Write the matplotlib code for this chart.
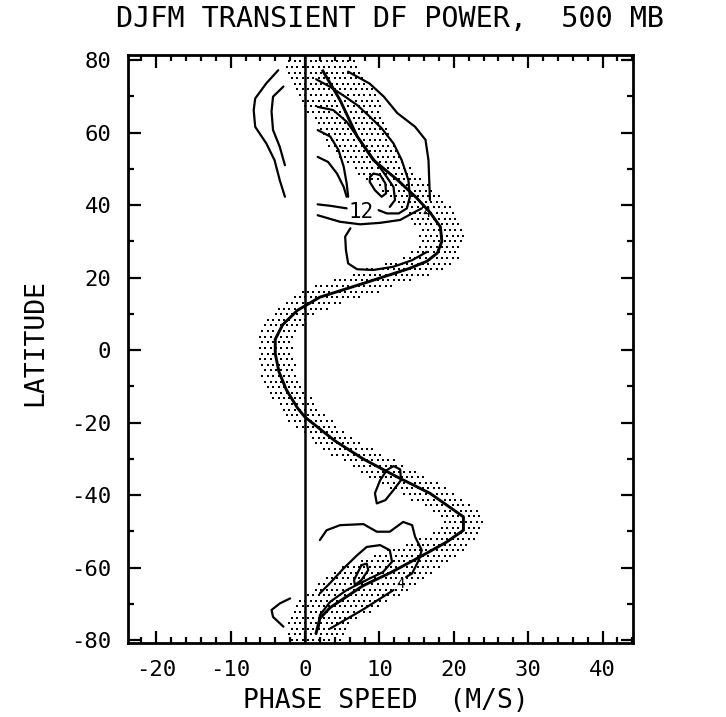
import numpy as np
import matplotlib
matplotlib.use("Agg")
import matplotlib.pyplot as plt
from matplotlib.ticker import MultipleLocator

plt.rcParams["axes.unicode_minus"] = False

# ---------------- data ----------------
# zonal-mean wind profile (m/s) vs latitude
wind_u = [2.4, 4.7, 7.0, 9.2, 12.4, 15.0, 16.8, 18.2, 18.4, 17.8, 16.4, 14.0, 8.0, 2.0,
          -1.0, -3.0, -4.0, -4.0, -3.5, -2.5, -1.0, 0.0, 4.0, 7.8, 12.4, 16.8, 21.3,
          21.3, 19.0, 15.5, 11.4, 7.8, 3.4, 2.0, 1.5]
wind_lat = [77, 69, 59, 52.4, 47, 42, 38, 34, 30, 26.8, 24.5, 22.5, 18.5, 14.6,
            11, 7, 3, -1, -6, -11, -16, -18.5, -25, -30, -35, -39.5, -46,
            -49.7, -53, -57, -61.5, -65, -71, -74, -78]
# half-width (m/s) of the stippled band around the profile, per profile point
stipple_w = [5.0, 5.0, 4.5, 3.5, 3.0, 3.0, 3.0, 3.0, 3.0, 3.0, 3.0, 2.6, 2.6, 2.6,
             2.6, 2.6, 2.4, 2.4, 2.4, 2.4, 2.4, 2.4, 2.4, 2.4, 2.6, 2.6, 2.6,
             2.6, 3.0, 3.5, 4.5, 5.0, 4.5, 4.0, 4.0]

# contour lines of transient power (phase speed, latitude)
c_nw_outer_u = [-3.6, -5.2, -6.7, -6.9, -6.7, -5.2, -4.1, -3.4, -2.7]
c_nw_outer_lat = [77.2, 73.6, 69.4, 66.2, 61.6, 57.0, 52.4, 46.9, 42.3]
c_nw_inner_u = [-2.9, -4.3, -4.5, -4.3, -3.4, -2.7]
c_nw_inner_lat = [72.7, 69.9, 65.8, 60.7, 56.1, 51.0]

c_ne_outer_u = [5.8, 8.7, 10.6, 12.4, 14.8, 16.2, 16.6, 16.8]
c_ne_outer_lat = [76.8, 73.5, 69.9, 65.4, 61.6, 58.0, 52.4, 41.4]

c12_a_u = [1.5, 3.4, 5.4, 7.0, 8.5, 10.3, 11.9, 13.0, 13.9, 14.1, 13.7, 12.6, 11.0, 9.9]
c12_a_lat = [74.7, 72.6, 69.9, 67.6, 64.8, 61.2, 57.0, 52.4, 46.9, 42.3, 39.1, 37.7, 37.7, 38.6]
c12_b_u = [5.6, 3.4, 1.7]
c12_b_lat = [39.1, 39.8, 40.2]

c_b_u = [1.7, 3.8, 5.6, 7.2, 8.8, 10.5, 11.9, 12.1, 11.4]
c_b_lat = [67.1, 66.2, 63.0, 58.4, 53.8, 49.2, 45.0, 41.4, 39.5]
c_c_u = [1.7, 3.4, 4.5, 5.2, 5.6, 5.8]
c_c_lat = [60.7, 58.9, 55.2, 50.6, 46.0, 42.3]
c_d_u = [1.7, 3.1, 4.3, 5.2, 5.6]
c_d_lat = [53.3, 51.9, 48.7, 45.0, 42.3]

c_max_u = [8.75, 9.2, 10.1, 10.8, 10.9, 10.3, 9.4, 8.7, 8.75]
c_max_lat = [47.8, 48.7, 48.3, 46.0, 43.2, 42.3, 44.1, 46.4, 47.8]

c_e_u = [1.7, 4.7, 7.4, 10.1, 12.8, 14.4, 15.7]
c_e_lat = [37.2, 35.4, 34.7, 35.1, 35.9, 37.7, 39.1]
c_f_u = [6.1, 5.4, 5.5, 5.8, 7.0, 9.2, 11.9, 14.4, 16.4]
c_f_lat = [33.6, 31.3, 27.6, 23.9, 22.3, 22.1, 23.0, 24.8, 27.1]

c_s_loop_u = [11.0, 11.9, 12.8, 12.9, 11.9, 10.8, 9.65, 9.4, 10.1, 11.0]
c_s_loop_lat = [-33.1, -32.0, -32.9, -35.9, -38.6, -41.4, -42.3, -39.5, -35.9, -33.1]

c4_u = [2.0, 2.9, 4.7, 7.85, 9.65, 11.4, 13.2, 14.4, 14.8, 15.7, 15.3, 14.4, 13.6]
c4_lat = [-52.4, -49.7, -48.3, -48.0, -50.1, -50.1, -47.4, -48.3, -51.5, -55.2, -57.9, -61.6, -62.6]
c4_b_u = [11.9, 7.85, 3.4]
c4_b_lat = [-66.2, -71.5, -76.8]

c_h_u = [1.8, 2.0, 3.4, 5.6, 8.3, 10.5, 11.7, 11.4, 10.1, 8.3, 7.0, 5.2, 3.4, 2.0]
c_h_lat = [-76.8, -73.1, -69.4, -66.2, -63.4, -61.2, -58.4, -55.2, -53.8, -54.3, -56.6,
           -60.2, -64.2, -67.1]
c_in_u = [7.6, 8.3, 8.5, 7.6, 6.7, 6.6, 7.6]
c_in_lat = [-59.3, -58.9, -60.7, -63.4, -64.8, -63.4, -59.3]

c_sw_u = [-2.0, -3.4, -4.5, -4.3, -2.9]
c_sw_lat = [-68.5, -69.9, -71.7, -73.6, -76.3]

contours = [
    (c_nw_outer_u, c_nw_outer_lat), (c_nw_inner_u, c_nw_inner_lat),
    (c_ne_outer_u, c_ne_outer_lat), (c12_a_u, c12_a_lat), (c12_b_u, c12_b_lat),
    (c_b_u, c_b_lat), (c_c_u, c_c_lat), (c_d_u, c_d_lat), (c_max_u, c_max_lat),
    (c_e_u, c_e_lat), (c_f_u, c_f_lat), (c_s_loop_u, c_s_loop_lat),
    (c4_u, c4_lat), (c4_b_u, c4_b_lat), (c_h_u, c_h_lat), (c_in_u, c_in_lat),
    (c_sw_u, c_sw_lat),
]

contour_labels = ["12", "4", "4"]
contour_label_u = [7.6, 12.9, 16.3]
contour_label_lat = [38.2, -64.4, 37.8]

x_ticks = [-20, -10, 0, 10, 20, 30, 40]
y_ticks = [-80, -60, -40, -20, 0, 20, 40, 60, 80]

# ---------------- figure ----------------
FONT = "DejaVu Sans Mono"
fig = plt.figure(figsize=(7.26, 7.17), dpi=100)
ax = fig.add_axes([128 / 726, 1 - 643 / 717, (633 - 128) / 726, (643 - 55) / 717])
ax.set_xlim(-23.8, 44.1)
ax.set_ylim(-80.8, 81.4)

# stipple: regular staggered grid of dots near the wind profile
wu = np.array(wind_u, float)
wl = np.array(wind_lat, float)
ww = np.array(stipple_w, float)
seg = np.hypot(np.diff(wu), np.diff(wl) / 1.3)
s = np.concatenate([[0], np.cumsum(seg)])
sd = np.linspace(0, s[-1], 900)
cu = np.interp(sd, s, wu)
cl = np.interp(sd, s, wl)
cw = np.interp(sd, s, ww)
dx, dy = 0.72, 1.55
gx, gy = np.meshgrid(np.arange(-14, 32, dx), np.arange(-80, 80, dy))
gx = gx + 0.5 * dx * (np.round((gy + 80) / dy) % 2)
px, py = gx.ravel(), gy.ravel()
d = np.min(((px[:, None] - cu[None, :]) / cw[None, :]) ** 2 +
           ((py[:, None] - cl[None, :]) / (1.25 * cw[None, :])) ** 2, axis=1)
m = d < 1.0
ax.scatter(px[m], py[m], s=2.2, c="black", marker="s", linewidths=0, zorder=1)

# zero phase-speed line
ax.axvline(0, color="black", lw=1.8, zorder=2)

# contours
for u, la in contours:
    ax.plot(u, la, color="black", lw=1.6, solid_capstyle="round",
            solid_joinstyle="round", zorder=3)

# wind profile
ax.plot(wind_u, wind_lat, color="black", lw=2.1, solid_joinstyle="round", zorder=4)

for t, u, la in zip(contour_labels, contour_label_u, contour_label_lat):
    fs = 15 if t == "12" else 10
    ax.text(u, la, t, ha="center", va="center", fontsize=fs, family=FONT,
            zorder=5)

# axes styling
for sp in ax.spines.values():
    sp.set_linewidth(2.0)
ax.set_xticks(x_ticks)
ax.set_yticks(y_ticks)
ax.xaxis.set_minor_locator(MultipleLocator(2))
ax.yaxis.set_minor_locator(MultipleLocator(10))
ax.tick_params(which="both", direction="in", top=True, right=True, width=1.6)
ax.tick_params(which="major", length=9, labelsize=16, pad=12)
ax.tick_params(which="minor", length=4)
for lab in ax.get_xticklabels() + ax.get_yticklabels():
    lab.set_family(FONT)

ax.set_xlabel("PHASE SPEED  (M/S)", fontsize=19, family=FONT)
ax.xaxis.set_label_coords((386 - 128) / 505, (643 - 701) / 588)
ax.xaxis.label.set_va("center")
ax.set_ylabel("LATITUDE", fontsize=19, family=FONT)
ax.yaxis.set_label_coords((35 - 128) / 505, (643 - 342) / 588)
ax.yaxis.label.set_va("center")
fig.text(390 / 726, 1 - 19 / 717, "DJFM TRANSIENT DF POWER,  500 MB", ha="center",
         va="center", fontsize=20.5, family=FONT)

fig.savefig("out.png", dpi=100)
